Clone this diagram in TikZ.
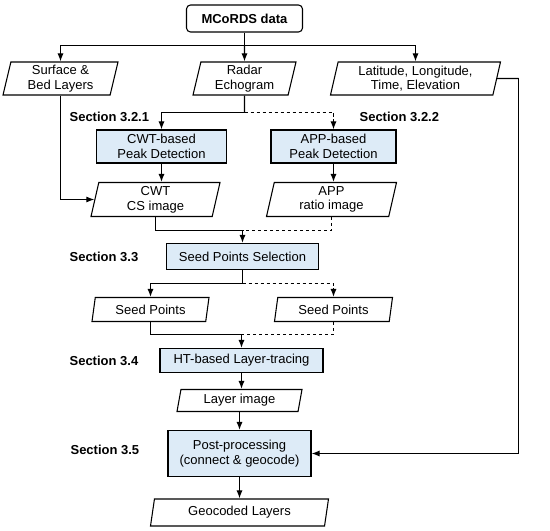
\documentclass[tikz,border=0pt]{standalone}
\usepackage{fontspec}
\setmainfont{Liberation Sans}
\usepackage{xcolor}
\usetikzlibrary{shapes.geometric, arrows.meta}
\definecolor{procblue}{RGB}{221,235,247}

\begin{document}
\begin{tikzpicture}[
    x=0.75pt, y=-0.75pt,
    every node/.style={
        align=center,
        font=\fontsize{9.75}{11}\selectfont,
        inner sep=1pt
    },
    databox/.style={
        trapezium,
        trapezium left angle=75,
        trapezium right angle=105,
        trapezium stretches body=true,
        draw,
        line width=0.8pt
    },
    procbox/.style={rectangle, draw, fill=procblue, line width=0.8pt},
    section/.style={font=\fontsize{9.75}{11}\selectfont\bfseries, anchor=west},
    wire/.style={draw, line width=0.8pt},
    flow/.style={wire, -{Latex[length=6pt,width=4.5pt]}},
    altwire/.style={wire, dash pattern=on 2.5pt off 2pt},
    altflow/.style={flow, dash pattern=on 2.5pt off 2pt}
]
\useasboundingbox (0,0) rectangle (550,531);

% Source
\node[rectangle, draw, rounded corners=3pt, line width=0.8pt, minimum width=116*0.75pt, minimum height=27*0.75pt, font=\fontsize{9.75}{11}\selectfont\bfseries] (mcords) at (244.5,18.5) {MCoRDS data};

% Inputs
\node[databox, minimum width=115*0.75pt, minimum height=33*0.75pt] (surf) at (60.5,78.5) {Surface \&\\Bed Layers};
\node[databox, minimum width=103*0.75pt, minimum height=33*0.75pt] (radar) at (244.5,78.5) {Radar\\Echogram};
\node[databox, minimum width=170*0.75pt, minimum height=33*0.75pt] (latlon) at (415.5,78.5) {Latitude, Longitude,\\Time, Elevation};

% Peak detection
\node[procbox, minimum width=130*0.75pt, minimum height=33*0.75pt] (cwt) at (161.5,146.5) {CWT-based\\Peak Detection};
\node[procbox, minimum width=125*0.75pt, minimum height=33*0.75pt] (app) at (333.5,146.5) {APP-based\\Peak Detection};
\node[databox, minimum width=129*0.75pt, minimum height=34*0.75pt] (cwtimg) at (155.5,199.5) {CWT\\CS image};
\node[databox, minimum width=130*0.75pt, minimum height=34*0.75pt] (appimg) at (331.5,199.5) {APP\\ratio image};

% Seed points
\node[procbox, minimum width=152*0.75pt, minimum height=26*0.75pt] (sps) at (242.5,256.5) {Seed Points Selection};
\node[databox, minimum width=117*0.75pt, minimum height=24*0.75pt] (seedl) at (150.5,309.5) {Seed Points};
\node[databox, minimum width=118*0.75pt, minimum height=24*0.75pt] (seedr) at (333.5,309.5) {Seed Points};

% Tracing and output
\node[procbox, minimum width=163*0.75pt, minimum height=24*0.75pt] (ht) at (241.5,360.5) {HT-based Layer-tracing};
\node[databox, minimum width=125*0.75pt, minimum height=22*0.75pt] (layer) at (239.5,400.5) {Layer image};
\node[procbox, minimum width=143*0.75pt, minimum height=46*0.75pt] (post) at (239.5,453.5) {Post-processing\\(connect \& geocode)};
\node[databox, minimum width=178*0.75pt, minimum height=27*0.75pt] (geo) at (239.5,512.5) {Geocoded Layers};

% Section labels
\node[section] (s321) at (68,117) {Section 3.2.1};
\node[section] (s322) at (358,117) {Section 3.2.2};
\node[section] (s33) at (68,257) {Section 3.3};
\node[section] (s34) at (68,361) {Section 3.4};
\node[section] (s35) at (69,450) {Section 3.5};

% Junctions
\coordinate (split0) at (244.5,45.5);
\coordinate (split1) at (244.5,112.5);
\coordinate (merge1) at (242.5,230.5);
\coordinate (split2) at (242.5,283.5);
\coordinate (merge2) at (241.5,334.5);
\coordinate (corner) at (518.5,78.5);

% Connectors
\draw[wire] (mcords.south) -- (split0);
\draw[flow] (split0) -| (surf.north);
\draw[flow] (split0) -- (radar.north);
\draw[flow] (split0) -| (latlon.north);

\draw[wire] (radar.south) -- (split1);
\draw[flow] (split1) -| (cwt.north);
\draw[altflow] (split1) -| (app.north);
\draw[flow] (surf.south) |- (cwtimg.west);
\draw[flow] (cwt.south) -- (cwt.south |- cwtimg.north);
\draw[flow] (app.south) -- (app.south |- appimg.north);

\draw[wire] (cwtimg.south) |- (merge1);
\draw[altwire] (appimg.south) |- (merge1);
\draw[flow] (merge1) -- (sps.north);

\draw[wire] (sps.south) -- (split2);
\draw[flow] (split2) -| (seedl.north);
\draw[altflow] (split2) -| (seedr.north);

\draw[wire] (seedl.south) |- (merge2);
\draw[altwire] (seedr.south) |- (merge2);
\draw[flow] (merge2) -- (ht.north);

\draw[flow] (ht.south) -- (ht.south |- layer.north);
\draw[flow] (layer.south) -- (layer.south |- post.north);
\draw[flow] (post.south) -- (post.south |- geo.north);

\draw[wire] (latlon.east) -- (corner);
\draw[flow] (corner) |- (post.east);

\end{tikzpicture}
\end{document}
